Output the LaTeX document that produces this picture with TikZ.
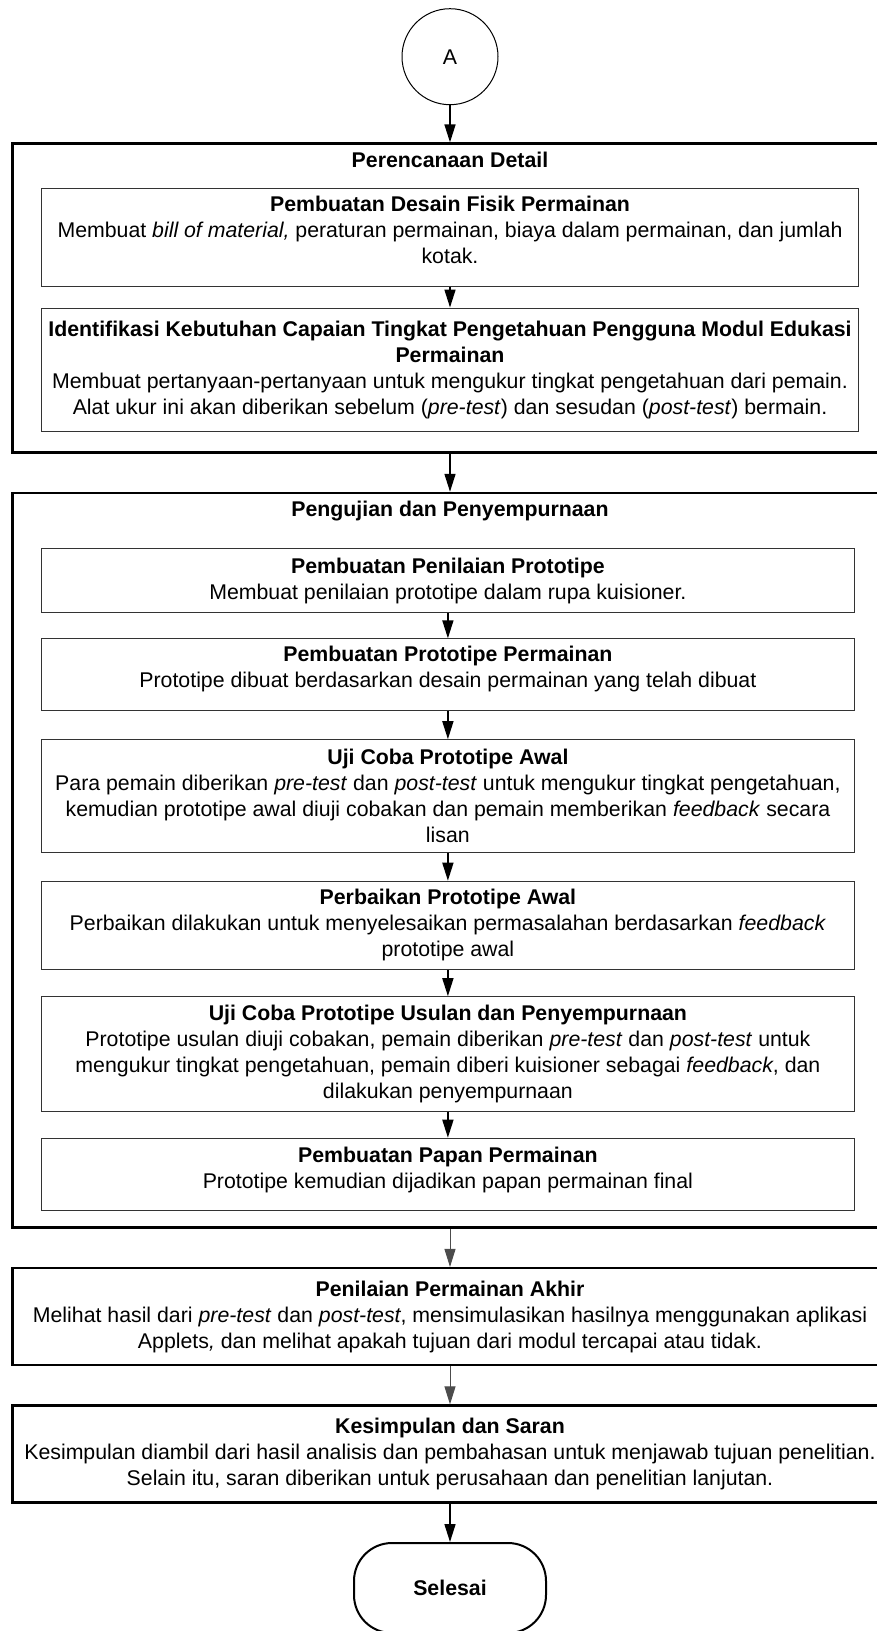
\documentclass[tikz,border=0pt]{standalone}
\usepackage{fontspec}
\setmainfont{Liberation Sans}
\usetikzlibrary{arrows.meta}

% deepen the last line so the text sits higher in its box
\newcommand{\lift}[1]{\rule[-#1]{0pt}{0pt}}

\begin{document}
\begin{tikzpicture}[x=1pt, y=-1pt,
    every node/.style={font=\fontsize{21.3}{26}\selectfont, align=center, inner sep=0pt},
    group/.style={draw, line width=2.5pt, minimum width=875pt},
    stepbox/.style={draw=black!80, line width=1pt},
    flow/.style={-{Triangle[length=18pt,width=11pt]}, line width=1.6pt},
    thinflow/.style={flow, line width=1pt, draw=black!70, fill=black}]
             \useasboundingbox (0,0) rectangle (876,1631);

             % start
             \node[circle, draw, line width=1pt, minimum size=96pt] (a) at (450,56.7) {A};

             % perencanaan detail
             \node[group, minimum height=309pt] (plan) at (450,298.1) {};
             \node (plantitle) at (450,160) {\bfseries Perencanaan Detail};
             \node[stepbox, minimum width=816.7pt, minimum height=97.8pt] (desain) at (450,237.2)
                {\bfseries Pembuatan Desain Fisik Permainan\\
                 Membuat \textit{bill of material,} peraturan permainan, biaya dalam permainan, dan jumlah\\
                 kotak.\lift{14.6pt}};
             \node[stepbox, minimum width=816.7pt, minimum height=123.8pt] (ident) at (450,369.9)
                {\bfseries Identifikasi Kebutuhan Capaian Tingkat Pengetahuan Pengguna Modul Edukasi\\
                 \bfseries Permainan\\
                 Membuat pertanyaan-pertanyaan untuk mengukur tingkat pengetahuan dari pemain.\\
                 Alat ukur ini akan diberikan sebelum (\textit{pre-test}) dan sesudan (\textit{post-test}) bermain.};

             % pengujian dan penyempurnaan
             \node[group, minimum height=734.7pt] (test) at (450,860.35) {};
             \node (testtitle) at (450,510.8) {\bfseries Pengujian dan Penyempurnaan};
             \node[stepbox, minimum width=812.6pt, minimum height=64.5pt] (nilai) at (447.9,580.55)
                {\bfseries Pembuatan Penilaian Prototipe\\
                 Membuat penilaian prototipe dalam rupa kuisioner.};
             \node[stepbox, minimum width=812.6pt, minimum height=71.8pt] (proto) at (447.9,674.7)
                {\bfseries Pembuatan Prototipe Permainan\\
                 Prototipe dibuat berdasarkan desain permainan yang telah dibuat\lift{15pt}};
             \node[stepbox, minimum width=812.6pt, minimum height=112.4pt] (ujiawal) at (447.9,795.9)
                {\bfseries Uji Coba Prototipe Awal\\
                 Para pemain diberikan \textit{pre-test} dan \textit{post-test} untuk mengukur tingkat pengetahuan,\\
                 kemudian prototipe awal diuji cobakan dan pemain memberikan \textit{feedback} secara\\
                 lisan};
             \node[stepbox, minimum width=812.6pt, minimum height=88.5pt] (baik) at (447.9,925.45)
                {\bfseries Perbaikan Prototipe Awal\\
                 Perbaikan dilakukan untuk menyelesaikan permasalahan berdasarkan \textit{feedback}\\
                 prototipe awal};
             \node[stepbox, minimum width=812.6pt, minimum height=114.4pt] (ujiusul) at (447.9,1053.9)
                {\bfseries Uji Coba Prototipe Usulan dan Penyempurnaan\\
                 Prototipe usulan diuji cobakan, pemain diberikan \textit{pre-test} dan \textit{post-test} untuk\\
                 mengukur tingkat pengetahuan, pemain diberi kuisioner sebagai \textit{feedback}, dan\\
                 dilakukan penyempurnaan};
             \node[stepbox, minimum width=812.6pt, minimum height=71.8pt] (papan) at (447.9,1174.1)
                {\bfseries Pembuatan Papan Permainan\\
                 Prototipe kemudian dijadikan papan permainan final\lift{13pt}};

             % akhir
             \node[group, minimum height=96.8pt] (akhir) at (450,1316.6)
                {\bfseries Penilaian Permainan Akhir\\
                 Melihat hasil dari \textit{pre-test} dan \textit{post-test}, mensimulasikan hasilnya menggunakan aplikasi\\
                 Applets\textit{,} dan melihat apakah tujuan dari modul tercapai atau tidak.};
             \node[group, minimum height=96.7pt] (saran) at (450,1453.95)
                {\bfseries Kesimpulan dan Saran\\
                 Kesimpulan diambil dari hasil analisis dan pembahasan untuk menjawab tujuan penelitian.\\
                 Selain itu, saran diberikan untuk perusahaan dan penelitian lanjutan.};
             \node[draw, rounded corners=38pt, line width=2pt, minimum width=192pt, minimum height=90pt] (selesai) at (450,1588)
                {\bfseries Selesai};

             \draw[flow] (a) -- (plan);
             \draw[flow] (desain) -- (ident);
             \draw[flow] (plan) -- (test);
             \draw[flow] (nilai) -- (proto);
             \draw[flow] (proto) -- (ujiawal);
             \draw[flow] (ujiawal) -- (baik);
             \draw[flow] (baik) -- (ujiusul);
             \draw[flow] (ujiusul) -- (papan);
             \draw[thinflow] (test) -- (akhir);
             \draw[thinflow] (akhir) -- (saran);
             \draw[flow] (saran) -- (selesai);
             \end{tikzpicture}
\end{document}
